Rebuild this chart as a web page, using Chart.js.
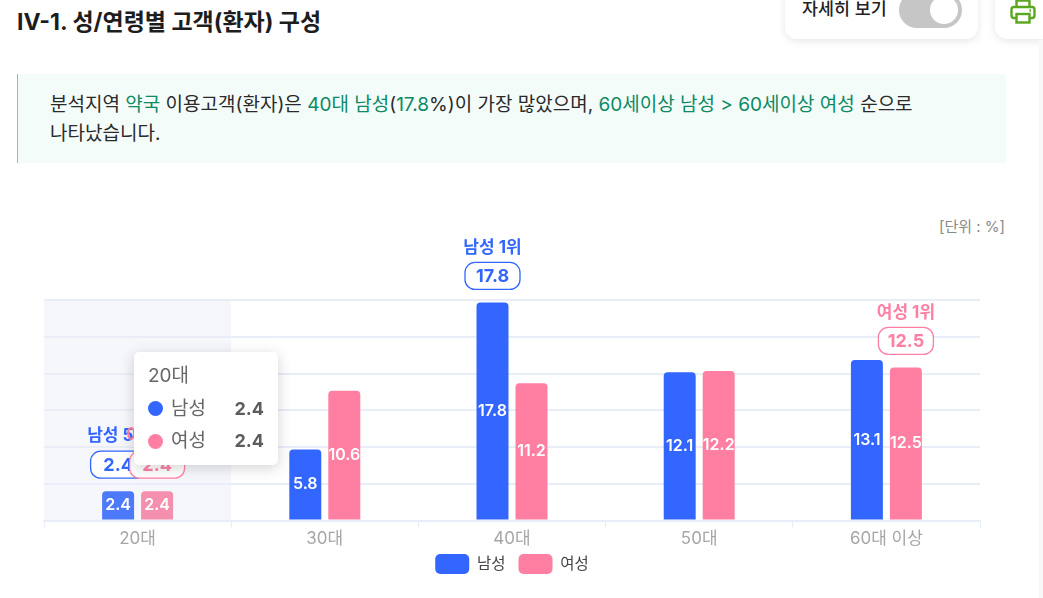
<!DOCTYPE html>
<html lang="ko">
<head>
<meta charset="utf-8">
<title>IV-1. 성/연령별 고객(환자) 구성</title>
<script src="https://cdn.jsdelivr.net/npm/chart.js@4"></script>
<style>
  html, body { margin: 0; padding: 0; background: #fff; overflow: hidden; }
  body { width: 1043px; height: 598px; position: relative; font-family: Inter, "Noto Sans CJK KR", sans-serif; color: #222; }
  canvas { position: absolute; left: 0; top: 0; }
  .title { position: absolute; left: 17px; top: 6px; font-size: 23px; font-weight: 700; line-height: 32px; color: #1d1d1d; white-space: nowrap; }
  .card { position: absolute; top: -20px; height: 59px; background: #fff; border-radius: 12px; box-shadow: 0 2px 8px rgba(0,0,0,0.10); }
  .detail { left: 785px; width: 193px; }
  .print { left: 995px; width: 60px; }
  .detail span { position: absolute; left: 17px; top: 15px; font-size: 17.4px; font-weight: 500; line-height: 28px; color: #222; white-space: nowrap; }
  .toggle { position: absolute; left: 114px; top: 12px; width: 63px; height: 36px; border-radius: 18px; background: #c6c6c6; }
  .toggle i { position: absolute; right: 4px; top: 4px; width: 28px; height: 28px; border-radius: 50%; background: #fff; }
  .print svg { position: absolute; left: 15px; top: 19px; }
  .summary { position: absolute; left: 17px; top: 74px; width: 989px; height: 89px; background: #f4fcf9; border-left: 1px solid #6fd3a8; box-sizing: border-box; padding: 16px 32px; font-size: 19px; line-height: 29px; color: #2a2a2a; white-space: nowrap; }
  .summary b { font-weight: 400; color: #0b8a63; }
  .unit { position: absolute; right: 38px; top: 216px; font-size: 15px; line-height: 22px; color: #8a8a8a; }
  .scroll { position: absolute; left: 1039px; top: 40px; width: 4px; bottom: 0; background: #f8f8f8; }
  #tip { position: absolute; left: 134px; top: 352px; width: 144px; height: 113px; box-sizing: border-box; background: #fff; border-radius: 5px; box-shadow: 0 3px 14px rgba(60,60,70,0.22); padding: 8px 14px; color: #666; font-size: 19px; line-height: 32.5px; display: none; }
  #tip .row { display: flex; align-items: center; }
  #tip .dot { width: 15px; height: 15px; border-radius: 50%; margin-right: 8px; }
  #tip .val { margin-left: auto; font-size: 18px; font-weight: 700; color: #5c5c5c; }
</style>
</head>
<body>
<div class="title">IV-1. 성/연령별 고객(환자) 구성</div>
<div class="card detail"><span>자세히 보기</span><div class="toggle"><i></i></div></div>
<div class="card print">
  <svg width="26" height="26" viewBox="0 0 26 26" fill="none" stroke="#5aa61e" stroke-width="2.4">
    <path d="M6.5 8V1.5h13V8"/><rect x="1.5" y="8" width="23" height="11" rx="2.5"/><rect x="6.5" y="15" width="13" height="8.5" fill="#fff"/><path d="M19.5 11.5h1.5"/>
  </svg>
</div>
<div class="summary">분석지역 <b>약국</b> 이용고객(환자)은 <b>40대 남성</b>(<b>17.8</b>%)이 가장 많았으며, <b>60세이상 남성 &gt; 60세이상 여성</b> 순으로<br>나타났습니다.</div>
<div class="unit">[단위 : %]</div>
<div class="scroll"></div>
<canvas id="chart" width="1043" height="598"></canvas>
<div id="tip"></div>
<script>
// -- Data --
const categories = ['20대', '30대', '40대', '50대', '60대 이상'];
const maleValues = [2.4, 5.8, 17.8, 12.1, 13.1];
const femaleValues = [2.4, 10.6, 11.2, 12.2, 12.5];
const maleRanks = ['남성 5위', null, '남성 1위', null, null];
const femaleRanks = ['여성 5위', null, null, null, '여성 1위'];
const seriesNames = ['남성', '여성'];

const BLUE = '#3366ff';
const PINK = '#ff7fa3';
const FONT = 'Inter, "Noto Sans CJK KR", sans-serif';

function roundBox(ctx, x, y, w, h, r) {
    ctx.beginPath();
    ctx.roundRect(x, y, w, h, r);
}

// hover band behind the active category
const bandPlugin = {
    id: 'band',
    afterLayout(chart) {
        // legend sits closer to the axis than its padding would allow
        chart.legend.top -= 9;
        chart.legend.bottom -= 9;
    },
    beforeDraw(chart) {
        const active = chart.getActiveElements();
        if (!active.length) return;
        const area = chart.chartArea;
        const w = area.width / categories.length;
        chart.ctx.fillStyle = '#f6f7fb';
        chart.ctx.fillRect(area.left + w * active[0].index, area.top, w, area.height);
    }
};

// values in the bars, rank label + badge above the marked bars
const labelPlugin = {
    id: 'labels',
    afterDatasetsDraw(chart) {
        const ctx = chart.ctx;
        ctx.save();
        ctx.textAlign = 'center';
        ctx.textBaseline = 'middle';
        chart.data.datasets.forEach((ds, di) => {
            chart.getDatasetMeta(di).data.forEach((bar, i) => {
                ctx.fillStyle = '#fff';
                ctx.font = '600 16px ' + FONT;
                ctx.fillText(ds.data[i].toFixed(1), bar.x, (bar.y + bar.base) / 2);
            });
        });
        chart.data.datasets.forEach((ds, di) => {
            const ranks = di === 0 ? maleRanks : femaleRanks;
            const color = di === 0 ? BLUE : PINK;
            chart.getDatasetMeta(di).data.forEach((bar, i) => {
                if (!ranks[i]) return;
                const top = bar.y - 13 - 27;
                ctx.fillStyle = '#fff';
                ctx.strokeStyle = color;
                ctx.lineWidth = 1.3;
                roundBox(ctx, bar.x - 27.5, top, 55, 27, 10);
                ctx.fill();
                ctx.stroke();
                ctx.fillStyle = color;
                ctx.font = '700 18px ' + FONT;
                ctx.fillText(ds.data[i].toFixed(1), bar.x, top + 14);
                ctx.font = '700 17px ' + FONT;
                ctx.fillText(ranks[i], bar.x, top - 15);
            });
        });
        ctx.restore();
    }
};

// tooltip is a html box so the values can sit right aligned and bold
function drawTip(context) {
    const model = context.tooltip;
    const tip = document.getElementById('tip');
    if (model.opacity === 0) {
        tip.style.display = 'none';
        return;
    }
    let html = '<div>' + model.title[0] + '</div>';
    model.dataPoints.forEach((p) => {
        html += '<div class="row"><span class="dot" style="background:' + p.dataset.backgroundColor + '"></span>'
            + p.dataset.label + '<span class="val">' + p.parsed.y.toFixed(1) + '</span></div>';
    });
    tip.innerHTML = html;
    tip.style.display = 'block';
}

const chart = new Chart(document.getElementById('chart').getContext('2d'), {
    type: 'bar',
    data: {
        labels: categories,
        datasets: [
            { label: seriesNames[0], data: maleValues, backgroundColor: BLUE, hoverBackgroundColor: '#4d79fb', borderRadius: { topLeft: 4, topRight: 4 }, borderSkipped: 'bottom', categoryPercentage: 0.4167, barPercentage: 0.82 },
            { label: seriesNames[1], data: femaleValues, backgroundColor: PINK, hoverBackgroundColor: '#f48fae', borderRadius: { topLeft: 4, topRight: 4 }, borderSkipped: 'bottom', categoryPercentage: 0.4167, barPercentage: 0.82 }
        ]
    },
    options: {
        responsive: false,
        animation: false,
        events: [],
        layout: { padding: { top: 300, left: 44, right: 63, bottom: 5 } },
        interaction: { mode: 'index', intersect: false },
        scales: {
            x: {
                grid: { drawOnChartArea: false, color: '#e9edf7', tickLength: 7 },
                border: { color: '#e9edf7', width: 2 },
                ticks: { color: '#a6a6a6', font: { size: 17, family: FONT }, padding: 1 }
            },
            y: {
                min: 0,
                max: 18,
                ticks: { stepSize: 3, display: false },
                grid: { color: '#e9edf7', lineWidth: 2, drawTicks: false },
                border: { display: false }
            }
        },
        plugins: {
            legend: {
                position: 'bottom',
                labels: {
                    boxWidth: 34,
                    boxHeight: 20,
                    useBorderRadius: true,
                    borderRadius: 5,
                    padding: 13,
                    color: '#444',
                    font: { size: 15.5, family: FONT }
                }
            },
            tooltip: { enabled: false, external: drawTip }
        }
    },
    plugins: [bandPlugin, labelPlugin]
});

// the reference shows the first category hovered
chart.setActiveElements([{ datasetIndex: 0, index: 0 }, { datasetIndex: 1, index: 0 }]);
chart.tooltip.setActiveElements([{ datasetIndex: 0, index: 0 }, { datasetIndex: 1, index: 0 }], { x: 137, y: 400 });
chart.update();
</script>
</body>
</html>
